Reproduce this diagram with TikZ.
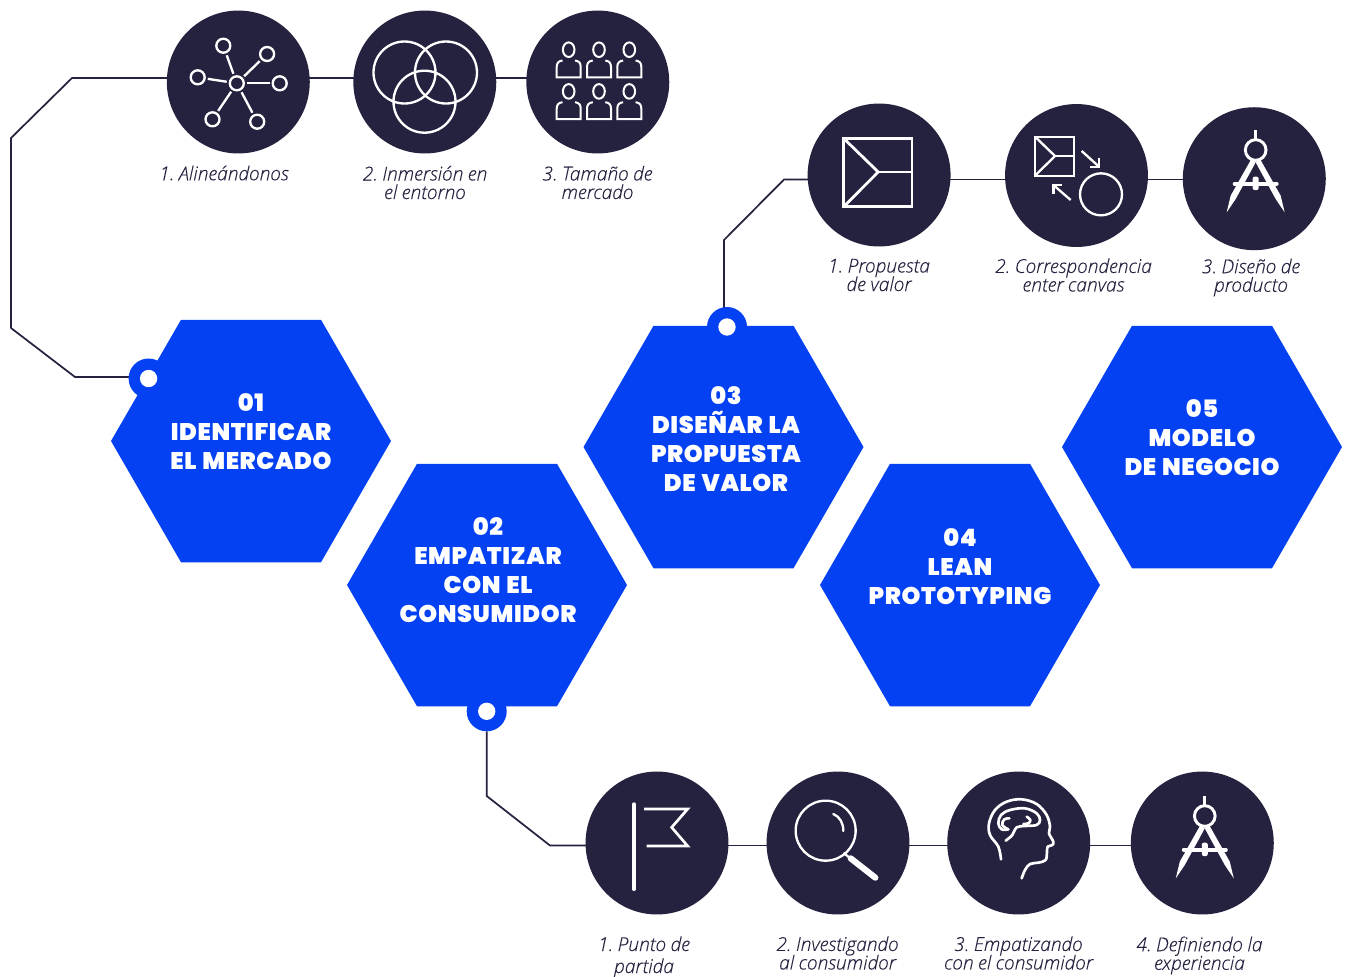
\documentclass[tikz,border=0pt]{standalone}
\usepackage{fontspec}
\usetikzlibrary{shapes.geometric}
\setmainfont{Open Sans}
\newfontfamily\capfont{Open Sans Light}[ItalicFont={Open Sans Light Italic},ItalicFeatures={FakeBold=0.25},WordSpace=0.9]
\newfontfamily\hexfont{Poppins Black}[LetterSpace=2.5,WordSpace=1.25]
\newcommand{\capsetup}[1]{\capfont\itshape\fontsize{14.4}{#1}\selectfont\lineskiplimit=-20pt\relax}
\definecolor{navy}{HTML}{24223F}
\definecolor{hexblue}{HTML}{0441F3}
\pgfdeclarelayer{back}
\pgfsetlayers{back,main}
\frenchspacing
\tikzset{
  x=0.75pt,y=-0.75pt,
  hexa/.style={regular polygon,regular polygon sides=6,minimum size=210pt,inner sep=0pt,outer sep=0pt,fill=hexblue},
  hextext/.style={font=\hexfont\fontsize{18}{21.75}\selectfont,text=white,align=center,inner sep=0pt},
  disc/.style={circle,minimum size=107.2pt,inner sep=0pt,outer sep=0pt,fill=navy},
  captext/.style={font={\capsetup{13.9}},text=navy,align=center,inner sep=0pt},
  ring/.style={circle,minimum size=30pt,inner sep=0pt,outer sep=0pt,fill=hexblue},
  hole/.style={circle,minimum size=13pt,inner sep=0pt,outer sep=0pt,fill=white},
  link/.style={draw=navy,line width=1.3pt,line join=round},
  icon/.style={draw=white,line width=1.75pt,line join=miter},
  netnode/.style={circle,draw=white,line width=1.75pt,minimum size=10.5pt,inner sep=0pt},
  spoke/.style={draw=white,line width=1.75pt,shorten >=1.5pt,shorten <=1.5pt},
  zoomed/.style={x=0.25pt,y=-0.25pt},
}
\newcommand{\compassicon}[2]{%
\begin{scope}[shift={(#1,#2)},zoomed]
  \draw[icon,line width=2.2pt] (137,15) -- (137,42);
  \draw[icon,line width=2.2pt] (137,75) circle [radius=31];
  \fill[white] (124,102) -- (137,112) -- (77,222) -- (50,262) -- (62,212) -- cycle;
  \fill[white] (150,102) -- (137,112) -- (197,222) -- (224,262) -- (212,212) -- cycle;
  \draw[icon,line width=3pt,line cap=round] (74,176) -- (200,176);
  \fill[white,rounded corners=1.5pt] (128,155) rectangle (146,195);
\end{scope}}
\begin{document}
\begin{tikzpicture}
\useasboundingbox (0,0) rectangle (1346,976);
% hexagons
\node[hexa] (h1) at (251,441) {};
\node[hexa] (h2) at (487,585) {};
\node[hexa] (h3) at (723.5,447) {};
\node[hexa] (h4) at (960,585) {};
\node[hexa] (h5) at (1202,447) {};
\node[hextext] (l1) at (251,432) {01\\IDENTIFICAR\\EL MERCADO};
\node[hextext] (l2) at (488,570) {02\\EMPATIZAR\\CON EL\\CONSUMIDOR};
\node[hextext] (l3) at (726,439) {03\\DISEÑAR LA\\PROPUESTA\\DE VALOR};
\node[hextext] (l4) at (960,567) {04\\LEAN\\PROTOTYPING};
\node[hextext] (l5) at (1202,438) {05\\MODELO\\DE NEGOCIO};
% rings
\node[ring] (r1) at (148.6,378.5) {};
\node[hole] (o1) at (r1) {};
\node[ring] (r2) at (486.7,711.3) {};
\node[hole] (o2) at (r2) {};
\node[ring] (r3) at (727,327) {};
\node[hole] (o3) at (r3) {};
% discs
\node[disc] (a1) at (238.3,82) {};
\node[disc] (a2) at (424.8,82) {};
\node[disc] (a3) at (597.8,82) {};
\node[disc] (b1) at (879.1,175) {};
\node[disc] (b2) at (1076.5,175.5) {};
\node[disc] (b3) at (1254.3,178.7) {};
\node[disc] (c1) at (657,843) {};
\node[disc] (c2) at (838,843) {};
\node[disc] (c3) at (1018.7,843) {};
\node[disc] (c4) at (1202.3,843) {};
% connectors, behind the discs and hexagons
\coordinate (p1) at (72,78);
\coordinate (p2) at (11,138);
\coordinate (p3) at (11,328);
\coordinate (p4) at (75,377);
\coordinate (q1) at (724,240);
\coordinate (q2) at (784,179.5);
\coordinate (s1) at (486.7,796);
\coordinate (s2) at (550,845.5);
\begin{pgfonlayer}{back}
\draw[link] (a1 |- p1) -- (p1) -- (p2) -- (p3) -- (p4) -- (r1 |- p4);
\draw[link] (a1 |- p1) -- (a2 |- p1);
\draw[link] (a2 |- p1) -- (a3 |- p1);
\draw[link] (q1 |- r3) -- (q1) -- (q2) -- (b1 |- q2);
\draw[link] (b1 |- q2) -- (b2 |- q2);
\draw[link] (b2 |- q2) -- (b3 |- q2);
\draw[link] (r2) -- (s1) -- (s2) -- (c1 |- s2);
\draw[link] (c1 |- s2) -- (c2 |- s2);
\draw[link] (c2 |- s2) -- (c3 |- s2);
\draw[link] (c3 |- s2) -- (c4 |- s2);
\end{pgfonlayer}
% captions
\node[captext] (ca1) at (224,173) {1. Alineándonos};
\node[captext] (ca2) at (425,182.5) {2. Inmersión en\\el entorno};
\node[captext] (ca3) at (597.5,182.5) {3. Tamaño de\\mercado};
\node[captext] (cb1) at (879,275) {1. Propuesta\\de valor};
\node[captext] (cb2) at (1073.5,275) {2. Correspondencia\\enter canvas};
\node[captext] (cb3) at (1251,277.5) {3. Diseño de\\producto};
\node[captext,font={\capsetup{16.5}}] (cc1) at (644,957) {1. Punto de\\partida};
\node[captext] (cc2) at (837.5,953) {2. Investigando\\al consumidor};
\node[captext] (cc3) at (1018.5,953) {3. Empatizando\\con el consumidor};
\node[captext] (cc4) at (1199.5,955.5) {4. Definiendo la\\experiencia};
% network icon
\node[netnode] (n0) at (236.8,83.3) {};
\node[netnode] (n1) at (223.3,45.7) {};
\node[netnode] (n2) at (267.1,54) {};
\node[netnode] (n3) at (197.7,77.3) {};
\node[netnode] (n4) at (279.7,83.3) {};
\node[netnode] (n5) at (212.5,119.3) {};
\node[netnode] (n6) at (257.2,121.7) {};
\foreach \k in {1,...,6}{\draw[spoke] (n0) -- (n\k);}
% venn icon
\draw[icon] (404.5,72.5) circle [radius=31];
\draw[icon] (446,72.5) circle [radius=31];
\draw[icon] (424.5,101.7) circle [radius=31];
% people icon
\foreach \dx in {0,30.3,60.6}{\foreach \dy in {0,41.7}{
  \begin{scope}[shift={(\dx,\dy)}]
  \draw[icon,line width=1.5pt] (568.7,49.7) ellipse [x radius=5.8,y radius=7.3];
  \draw[icon,line width=1.5pt] (562.5,60.5) .. controls (558.5,61) and (556.7,63) .. (556.7,67) -- (556.7,77.3) -- (580.7,77.3) -- (580.7,67) .. controls (580.7,63) and (579,61) .. (575,60.5);
  \end{scope}}}
% canvas icon
\draw[icon,line width=2.1pt] (843.6,138.3) rectangle (912,206.7);
\draw[icon,line width=2.1pt] (843.6,138.3) -- (878.2,172) -- (843.6,206.7);
\draw[icon,line width=2.1pt] (878.2,172) -- (912,172);
% correspondence icon
\begin{scope}[shift={(1025,125)},zoomed]
  \draw[icon] (30,35) rectangle (147,152);
  \draw[icon] (30,35) -- (90,93) -- (30,152);
  \draw[icon] (90,93) -- (147,93);
  \draw[icon] (170,78) -- (222,125);
  \draw[icon] (222,100) -- (222,125) -- (195,125);
  \draw[icon] (137,225) -- (85,180);
  \draw[icon] (85,208) -- (85,180) -- (112,180);
  \draw[icon] (228,208) circle [radius=63];
\end{scope}
% compasses
\compassicon{1210}{125}
\compassicon{1159.1}{791}
% flag
\begin{scope}[shift={(620,795)},zoomed]
  \draw[icon,line width=2.5pt,line cap=round] (42,27) -- (42,283);
  \draw[icon,line width=2pt] (72,42) -- (203,42) -- (155,97) -- (203,153) -- (80,153);
  % magnifier
  \draw[icon] (617,107) circle [radius=90];
  \draw[icon,line cap=round] (640,57) .. controls (660,65) and (670,85) .. (670,108);
  \draw[icon,line cap=round] (672,175) -- (685,185);
  \draw[icon,line width=4.6pt,line cap=round] (692,190) -- (766,248);
\end{scope}
% head icon
\begin{scope}[shift={(975,790)},zoomed]
  \draw[icon,line width=2pt,line cap=round,line join=round] plot[smooth,tension=0.6] coordinates {(78,208) (70,170) (45,135) (42,100) (60,60) (95,35) (140,28) (185,42) (215,75) (225,110) (222,130) (235,155) (232,165) (218,170) (216,185) (212,210) (190,218) (165,222) (150,240) (140,265)};
  \draw[icon,line width=2pt,line cap=round,line join=round] plot[smooth,tension=0.6] coordinates {(100,118) (80,118) (70,100) (78,75) (105,60) (150,55) (185,70) (195,90) (185,105) (150,108) (125,112) (112,135) (92,152)};
  \draw[icon,line width=2pt,line cap=round,line join=round] plot[smooth,tension=0.7] coordinates {(103,85) (88,88) (82,105) (100,118)};
  \draw[icon,line width=2pt,line cap=round,line join=round] plot[smooth,tension=0.7] coordinates {(155,80) (166,90) (160,100) (145,102)};
\end{scope}
\end{tikzpicture}
\end{document}
